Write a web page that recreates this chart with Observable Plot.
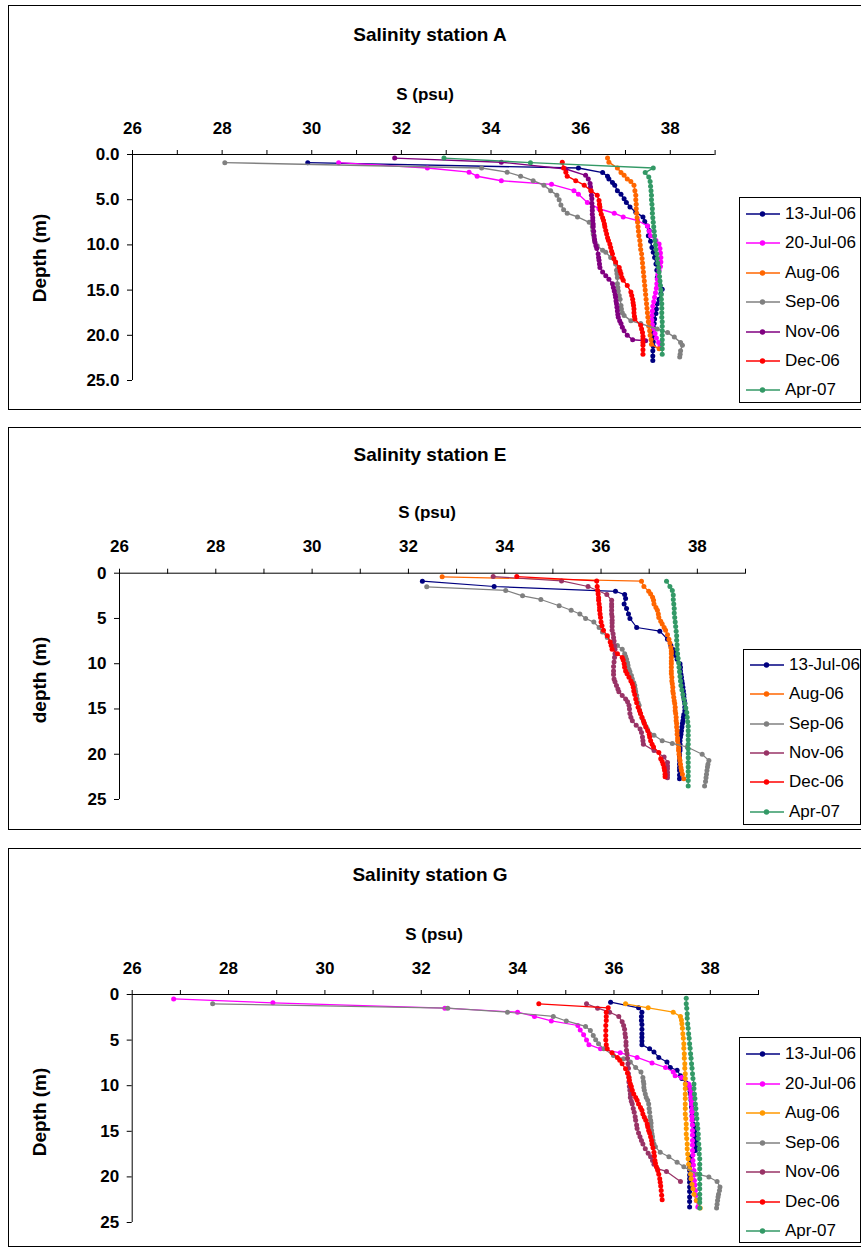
<!DOCTYPE html>
<html><head><meta charset="utf-8">
<script src="https://cdn.jsdelivr.net/npm/d3@7"></script>
<script src="https://cdn.jsdelivr.net/npm/@observablehq/plot@0.6"></script>
<style>
body{margin:0;background:#fff;font-family:"Liberation Sans",Arial,sans-serif;}
#page{position:relative;width:861px;height:1247px;overflow:hidden;background:#fff;}
.frame{position:absolute;border:1px solid #000;box-sizing:border-box;pointer-events:none;}
.title{position:absolute;font-weight:bold;font-size:19px;transform:translate(-50%,-50%);white-space:nowrap;}
.xlab{position:absolute;font-weight:bold;font-size:17px;transform:translate(-50%,-50%);white-space:nowrap;}
.ylab{position:absolute;font-weight:bold;font-size:19px;transform:translate(-50%,-50%) rotate(-90deg);white-space:nowrap;}
.legend{position:absolute;border:1px solid #000;box-sizing:border-box;background:#fff;}
.row{position:absolute;left:6px;display:flex;align-items:center;font-size:17px;white-space:nowrap;transform:translateY(-50%);}
.row svg{margin-right:5px;}
</style>
</head><body><div id="page"></div>
<script>
// ---------- categories / ticks ----------
const xTicks = [26,27,28,29,30,31,32,33,34,35,36,37,38,39];
const xLabels = [26,28,30,32,34,36,38];
const yTicks = [0,5,10,15,20,25];
const seriesNamesA = ["13-Jul-06","20-Jul-06","Aug-06","Sep-06","Nov-06","Dec-06","Apr-07"];
const seriesNamesE = ["13-Jul-06","Aug-06","Sep-06","Nov-06","Dec-06","Apr-07"];
const seriesNamesG = ["13-Jul-06","20-Jul-06","Aug-06","Sep-06","Nov-06","Dec-06","Apr-07"];
const colorsA = ["#000080","#FF00FF","#FF6600","#808080","#800080","#FF0000","#339966"];
const colorsE = ["#000080","#FF6600","#808080","#993366","#FF0000","#339966"];
const colorsG = ["#000080","#FF00FF","#FF9900","#808080","#993366","#FF0000","#339966"];

// ---------- station A  [depth (m), S (psu)] ----------
const A_jul13 = [[0.9,29.91],[1.5,35.95],[2.0,36.49],[2.4,36.6],[2.7,36.63],[3.1,36.71],[3.4,36.76],[4.0,36.82],[4.4,36.9],[4.9,36.97],[5.3,37.02],[5.8,37.1],[6.4,37.23],[6.9,37.39],[7.4,37.43],[7.9,37.49],[8.4,37.53],[9.0,37.51],[9.6,37.56],[10.3,37.59],[10.8,37.62],[11.4,37.65],[12.1,37.68],[12.8,37.7],[13.6,37.71],[14.3,37.75],[14.9,37.82],[15.4,37.79],[16.0,37.75],[16.5,37.71],[17.1,37.69],[17.6,37.68],[18.2,37.65],[18.7,37.64],[19.2,37.63],[19.7,37.62],[20.2,37.62],[20.7,37.62],[21.2,37.62],[21.7,37.61],[22.3,37.61],[22.8,37.61]];
const A_jul20 = [[0.9,30.6],[1.5,32.58],[1.95,33.51],[2.4,33.69],[2.9,34.23],[3.3,35.35],[4.0,35.85],[4.4,35.95],[5.3,36.15],[6.0,36.41],[6.5,36.75],[6.9,36.95],[7.3,37.27],[7.9,37.49],[8.5,37.53],[9.0,37.56],[9.5,37.68],[9.9,37.75],[10.4,37.77],[10.9,37.78],[11.4,37.79],[11.9,37.79],[12.4,37.78],[12.8,37.75],[13.3,37.72],[13.8,37.71],[14.3,37.7],[14.8,37.69],[15.3,37.67],[15.8,37.65],[16.3,37.63],[16.8,37.61],[17.3,37.6],[17.8,37.59],[18.3,37.59],[18.8,37.6],[19.3,37.63],[19.8,37.66],[20.3,37.69],[20.8,37.74],[21.2,37.77]];
const A_aug = [[0.4,36.6],[0.85,36.63],[1.5,36.82],[2.0,36.9],[2.3,36.97],[2.7,37.04],[3.0,37.12],[3.4,37.19],[4.0,37.21],[4.5,37.23],[5.0,37.23],[5.5,37.24],[6.0,37.24],[6.5,37.25],[7.0,37.26],[7.5,37.27],[8.0,37.28],[8.5,37.29],[9.0,37.3],[9.5,37.32],[10.0,37.33],[10.5,37.34],[11.0,37.36],[11.5,37.37],[12.0,37.38],[12.5,37.39],[13.0,37.4],[13.5,37.41],[14.0,37.42],[14.5,37.43],[15.0,37.44],[15.5,37.45],[16.0,37.46],[16.5,37.47],[17.0,37.48],[17.5,37.49],[18.0,37.5],[18.5,37.51],[19.0,37.52],[19.5,37.54],[20.0,37.55],[20.5,37.57],[21.0,37.58],[21.5,37.75]];
const A_sep = [[0.9,28.06],[1.5,33.79],[1.95,34.36],[2.4,34.66],[2.9,34.94],[3.4,35.18],[4.0,35.33],[4.5,35.47],[5.0,35.52],[5.6,35.56],[6.1,35.62],[6.5,35.7],[6.9,35.93],[7.5,36.19],[8.0,36.26],[8.4,36.27],[8.8,36.28],[9.2,36.3],[9.5,36.31],[10.1,36.37],[10.6,36.49],[10.8,36.56],[11.4,36.67],[12.1,36.78],[12.8,36.8],[13.2,36.81],[13.6,36.82],[14.3,36.82],[14.7,36.83],[15.1,36.84],[15.6,36.86],[16.0,36.88],[16.7,36.9],[17.1,36.91],[17.5,36.93],[17.8,36.97],[18.4,37.12],[18.7,37.34],[19.3,37.71],[19.7,37.94],[20.2,38.09],[20.8,38.23],[21.1,38.27],[21.7,38.23],[22.1,38.22],[22.4,38.21]];
const A_nov = [[0.4,31.85],[0.85,34.23],[1.6,35.67],[2.3,36.11],[2.7,36.17],[3.2,36.21],[3.6,36.22],[4.0,36.23],[4.5,36.24],[4.9,36.25],[5.4,36.25],[5.8,36.26],[6.2,36.26],[6.6,36.26],[7.0,36.27],[7.3,36.27],[7.7,36.28],[8.0,36.28],[8.5,36.29],[9.0,36.3],[9.4,36.31],[9.7,36.32],[10.1,36.34],[10.4,36.36],[11.0,36.39],[11.4,36.4],[11.7,36.41],[12.1,36.42],[12.5,36.43],[13.0,36.49],[13.4,36.56],[13.8,36.63],[14.3,36.71],[14.7,36.73],[15.1,36.75],[15.5,36.77],[15.8,36.78],[16.2,36.79],[16.5,36.8],[16.9,36.81],[17.3,36.82],[17.7,36.83],[18.0,36.84],[18.4,36.87],[18.7,36.9],[19.1,36.93],[19.5,36.97],[20.0,37.04],[20.5,37.16],[20.6,37.45]];
const A_dec = [[0.85,35.59],[1.5,35.62],[1.96,35.67],[2.4,35.7],[2.9,35.89],[3.4,36.08],[4.0,36.23],[4.5,36.37],[5.1,36.41],[5.5,36.42],[5.8,36.43],[6.2,36.44],[6.6,36.46],[7.0,36.49],[7.3,36.51],[7.7,36.53],[8.0,36.54],[8.4,36.56],[8.8,36.58],[9.2,36.6],[9.5,36.62],[9.9,36.65],[10.3,36.67],[10.7,36.69],[11.0,36.71],[11.5,36.74],[11.9,36.78],[12.5,36.86],[12.9,36.88],[13.2,36.9],[13.6,36.92],[13.9,36.95],[14.5,37.04],[15.2,37.12],[15.6,37.14],[16.0,37.16],[16.4,37.17],[16.7,37.18],[17.1,37.19],[17.5,37.19],[17.9,37.2],[18.2,37.21],[18.9,37.34],[19.3,37.36],[19.7,37.38],[20.1,37.39],[20.4,37.39],[20.8,37.39],[21.1,37.39],[21.6,37.39],[22.1,37.39]];
const A_apr = [[0.4,32.95],[0.9,34.88],[1.5,37.62],[2.0,37.44],[2.5,37.52],[3.0,37.55],[3.5,37.56],[4.0,37.57],[4.5,37.58],[5.0,37.58],[5.5,37.59],[6.0,37.6],[6.5,37.6],[7.0,37.61],[7.5,37.62],[8.0,37.63],[8.5,37.64],[9.0,37.65],[9.5,37.66],[10.0,37.67],[10.5,37.68],[11.0,37.7],[11.5,37.71],[12.0,37.72],[12.5,37.74],[13.0,37.75],[13.5,37.76],[14.0,37.77],[14.5,37.78],[15.0,37.79],[15.5,37.8],[16.0,37.8],[16.5,37.81],[17.0,37.81],[17.5,37.81],[18.0,37.81],[18.5,37.82],[19.0,37.82],[19.5,37.82],[20.0,37.82],[20.5,37.82],[21.0,37.82],[21.5,37.82],[22.1,37.82]];

// ---------- station E ----------
const E_jul13 = [[0.88,32.29],[1.47,33.78],[2.0,36.3],[2.36,36.49],[2.8,36.51],[3.4,36.48],[3.9,36.53],[4.5,36.57],[5.0,36.6],[6.0,36.74],[6.4,37.22],[7.3,37.38],[8.0,37.45],[8.4,37.49],[8.7,37.52],[9.1,37.55],[9.5,37.58],[10.0,37.64],[10.4,37.65],[10.8,37.65],[11.2,37.66],[11.5,37.67],[11.9,37.68],[12.2,37.69],[12.6,37.7],[13.0,37.71],[13.4,37.72],[13.7,37.72],[14.1,37.73],[14.4,37.74],[14.8,37.74],[15.2,37.74],[15.6,37.72],[15.9,37.71],[16.3,37.7],[16.6,37.69],[17.0,37.68],[17.4,37.67],[17.8,37.66],[18.1,37.65],[18.5,37.64],[18.9,37.64],[19.3,37.64],[19.6,37.64],[20.0,37.63],[20.3,37.63],[20.7,37.63],[21.1,37.63],[21.5,37.63],[21.8,37.63],[22.3,37.63],[22.7,37.63]];
const E_aug = [[0.4,32.7],[0.88,36.84],[1.47,36.89],[2.0,36.99],[2.3,37.03],[2.65,37.07],[3.0,37.09],[3.4,37.1],[3.8,37.14],[4.1,37.17],[4.5,37.19],[4.9,37.2],[5.3,37.24],[5.6,37.27],[6.0,37.31],[6.3,37.34],[6.8,37.38],[7.3,37.41],[7.7,37.43],[8.2,37.45],[8.6,37.46],[8.9,37.46],[9.3,37.46],[9.7,37.46],[10.0,37.46],[10.4,37.46],[10.8,37.46],[11.1,37.46],[11.5,37.47],[11.9,37.47],[12.2,37.48],[12.6,37.49],[13.0,37.49],[13.3,37.5],[13.7,37.51],[14.1,37.52],[14.4,37.53],[14.8,37.54],[15.2,37.54],[15.5,37.55],[15.9,37.56],[16.3,37.56],[16.6,37.57],[17.0,37.57],[17.4,37.58],[17.8,37.58],[18.2,37.59],[18.5,37.59],[18.9,37.6],[19.3,37.61],[19.6,37.61],[20.0,37.62],[20.4,37.63],[20.7,37.64],[21.1,37.65],[21.5,37.66],[21.8,37.67],[22.2,37.69],[22.7,37.72]];
const E_sep = [[1.5,32.38],[1.9,34.02],[2.5,34.37],[2.9,34.75],[3.6,35.13],[4.1,35.38],[4.5,35.56],[5.0,35.68],[5.4,35.85],[6.0,35.96],[6.5,36.03],[7.1,36.13],[7.6,36.23],[8.0,36.34],[8.4,36.44],[8.9,36.49],[9.2,36.51],[9.5,36.53],[9.9,36.55],[10.2,36.56],[10.6,36.58],[10.9,36.6],[11.3,36.63],[11.7,36.65],[12.1,36.68],[12.4,36.7],[12.8,36.71],[13.1,36.72],[13.5,36.74],[13.9,36.75],[14.3,36.77],[14.6,36.79],[15.1,36.8],[15.5,36.82],[16.0,36.85],[16.5,36.89],[16.9,36.93],[17.2,36.96],[17.9,37.1],[18.5,37.27],[18.8,37.48],[19.2,37.79],[20.0,38.1],[20.7,38.24],[21.1,38.22],[21.4,38.21],[21.8,38.2],[22.2,38.19],[22.6,38.18],[23.0,38.17],[23.5,38.15]];
const E_nov = [[0.37,33.76],[0.85,35.18],[1.47,35.73],[2.36,36.12],[3.0,36.22],[3.4,36.22],[3.7,36.22],[4.1,36.22],[4.5,36.22],[4.8,36.23],[5.2,36.23],[5.5,36.23],[5.9,36.23],[6.3,36.23],[6.7,36.25],[7.1,36.26],[7.5,36.27],[8.0,36.28],[8.4,36.29],[8.9,36.29],[9.3,36.28],[9.8,36.27],[10.3,36.26],[10.8,36.26],[11.2,36.26],[11.7,36.27],[12.0,36.29],[12.4,36.32],[12.8,36.35],[13.1,36.37],[13.5,36.44],[13.9,36.51],[14.2,36.55],[14.6,36.58],[15.0,36.59],[15.5,36.6],[15.9,36.62],[16.3,36.65],[16.8,36.73],[17.2,36.81],[17.6,36.84],[18.1,36.86],[18.5,36.87],[18.9,36.88],[19.6,37.1],[20.3,37.31],[20.9,37.38],[21.3,37.38],[21.6,37.38],[22.0,37.38],[22.3,37.38],[22.6,37.38]];
const E_dec = [[0.37,34.25],[0.85,35.91],[1.47,35.92],[1.9,35.93],[2.3,35.94],[2.7,35.95],[3.0,35.95],[3.4,35.96],[3.8,35.97],[4.1,35.97],[4.5,35.98],[4.9,35.99],[5.4,36.0],[5.8,36.02],[6.3,36.05],[6.9,36.13],[7.6,36.19],[8.0,36.21],[8.4,36.23],[8.9,36.34],[9.3,36.44],[9.6,36.46],[10.0,36.48],[10.4,36.49],[10.8,36.51],[11.1,36.54],[11.5,36.58],[11.9,36.62],[12.2,36.65],[12.6,36.67],[13.0,36.68],[13.4,36.7],[13.9,36.72],[14.3,36.74],[14.8,36.77],[15.2,36.8],[15.5,36.82],[15.9,36.85],[16.3,36.88],[16.6,36.9],[17.0,36.93],[17.4,36.97],[17.8,37.0],[18.1,37.01],[18.5,37.03],[18.9,37.06],[19.2,37.09],[19.8,37.2],[20.5,37.24],[20.8,37.27],[21.1,37.29],[21.5,37.31],[21.8,37.32],[22.2,37.33],[22.5,37.33]];
const E_apr = [[0.88,37.36],[1.47,37.43],[1.9,37.48],[2.4,37.5],[2.9,37.5],[3.4,37.51],[3.9,37.52],[4.4,37.52],[4.9,37.53],[5.4,37.54],[5.9,37.55],[6.4,37.56],[6.9,37.57],[7.4,37.57],[7.9,37.58],[8.4,37.58],[8.9,37.59],[9.4,37.6],[9.9,37.61],[10.4,37.62],[10.9,37.63],[11.4,37.64],[11.9,37.65],[12.4,37.66],[12.9,37.68],[13.4,37.7],[13.9,37.72],[14.4,37.74],[14.9,37.76],[15.4,37.78],[15.9,37.79],[16.4,37.8],[16.9,37.81],[17.4,37.81],[17.9,37.81],[18.4,37.81],[18.9,37.81],[19.4,37.81],[19.9,37.81],[20.4,37.81],[20.9,37.81],[21.4,37.81],[21.9,37.81],[22.4,37.81],[22.9,37.81],[23.5,37.81]];

// ---------- station G ----------
const G_jul13 = [[0.84,35.93],[1.46,36.51],[1.94,36.58],[2.4,36.57],[2.85,36.57],[3.3,36.58],[3.8,36.58],[4.3,36.58],[4.7,36.58],[5.1,36.58],[5.5,36.58],[5.96,36.74],[6.3,36.83],[6.9,36.93],[7.4,37.1],[8.0,37.17],[8.3,37.31],[8.9,37.38],[9.2,37.41],[9.7,37.5],[10.2,37.55],[10.6,37.58],[10.9,37.59],[11.3,37.6],[11.6,37.6],[12.0,37.61],[12.35,37.61],[12.8,37.62],[13.3,37.62],[13.7,37.63],[14.2,37.64],[14.5,37.66],[14.9,37.67],[15.2,37.68],[15.6,37.69],[16.0,37.7],[16.4,37.7],[16.8,37.7],[17.1,37.69],[17.8,37.6],[18.2,37.58],[18.6,37.57],[19.0,37.57],[19.3,37.57],[19.8,37.57],[20.2,37.57],[20.6,37.57],[21.1,37.57],[21.6,37.57],[22.2,37.57],[22.7,37.57],[23.3,37.57]];
const G_jul20 = [[0.48,26.86],[0.91,28.92],[1.5,32.49],[1.94,34.0],[2.4,34.35],[2.9,34.7],[3.4,35.25],[3.9,35.3],[4.4,35.37],[5.0,35.43],[5.5,35.48],[5.96,35.72],[6.4,36.13],[6.9,36.48],[7.5,36.79],[8.0,37.07],[8.5,37.23],[8.9,37.27],[9.1,37.4],[9.8,37.55],[10.1,37.57],[10.5,37.59],[10.9,37.6],[11.3,37.6],[11.6,37.61],[12.0,37.61],[12.5,37.62],[12.9,37.62],[13.4,37.62],[13.8,37.62],[14.3,37.63],[14.9,37.63],[15.4,37.63],[16.0,37.63],[16.5,37.63],[17.1,37.63],[17.6,37.64],[18.2,37.64],[18.7,37.65],[19.3,37.66],[19.8,37.66],[20.4,37.67],[20.9,37.68],[21.5,37.69],[22.0,37.7],[22.6,37.71],[23.3,37.74]];
const G_aug = [[1.02,36.24],[1.46,36.71],[1.94,37.23],[2.4,37.38],[2.8,37.4],[3.2,37.41],[3.7,37.42],[4.3,37.43],[4.8,37.44],[5.4,37.45],[5.9,37.45],[6.5,37.46],[7.0,37.46],[7.6,37.47],[8.1,37.47],[8.7,37.48],[9.2,37.48],[9.8,37.48],[10.3,37.48],[10.9,37.48],[11.4,37.48],[12.0,37.48],[12.5,37.48],[13.1,37.48],[13.6,37.49],[14.2,37.5],[14.7,37.5],[15.3,37.5],[15.8,37.51],[16.4,37.52],[16.9,37.52],[17.5,37.53],[18.0,37.54],[18.6,37.55],[19.1,37.57],[19.7,37.59],[20.2,37.6],[20.8,37.62],[21.3,37.64],[21.9,37.66],[22.6,37.71],[23.4,37.79]];
const G_sep = [[1.02,27.67],[1.5,32.55],[1.94,33.79],[2.4,34.74],[2.9,35.01],[3.5,35.41],[3.95,35.51],[4.5,35.57],[4.97,35.62],[5.4,35.68],[5.96,35.79],[6.7,35.99],[7.05,36.2],[7.4,36.34],[8.0,36.45],[8.5,36.56],[9.1,36.6],[9.5,36.61],[9.8,36.62],[10.2,36.62],[10.5,36.63],[10.9,36.65],[11.3,36.67],[11.6,36.7],[12.0,36.72],[12.5,36.73],[12.9,36.74],[13.4,36.75],[13.8,36.76],[14.1,36.77],[14.5,36.77],[14.9,36.78],[15.3,36.79],[15.6,36.8],[16.0,36.81],[16.4,36.83],[16.7,36.86],[17.3,36.96],[17.8,37.14],[18.4,37.31],[18.9,37.45],[19.7,37.73],[20.0,37.97],[20.5,38.14],[21.1,38.2],[21.5,38.19],[21.9,38.17],[22.2,38.16],[22.6,38.15],[23.0,38.14],[23.4,38.13]];
const G_nov = [[1.02,35.43],[1.5,35.66],[1.94,35.91],[2.4,36.1],[3.0,36.17],[3.4,36.2],[3.8,36.22],[4.3,36.23],[4.7,36.24],[5.2,36.25],[5.6,36.25],[6.1,36.26],[6.5,36.27],[7.0,36.28],[7.6,36.29],[8.1,36.3],[8.7,36.3],[9.1,36.31],[9.6,36.31],[10.1,36.32],[10.5,36.33],[10.9,36.34],[11.3,36.34],[11.7,36.36],[12.0,36.38],[12.5,36.4],[12.9,36.42],[13.4,36.44],[13.8,36.45],[14.3,36.47],[14.7,36.48],[15.2,36.51],[15.6,36.54],[16.0,36.57],[16.4,36.6],[16.9,36.65],[17.4,36.71],[17.8,36.76],[18.2,36.8],[18.6,36.83],[19.1,36.9],[19.4,37.09],[20.5,37.38]];
const G_dec = [[1.02,34.44],[1.46,35.88],[1.94,35.84],[2.4,35.84],[2.85,35.84],[3.4,35.83],[3.95,35.83],[4.5,35.83],[5.0,35.83],[5.5,35.84],[5.96,35.86],[6.4,35.96],[6.9,36.07],[7.2,36.12],[7.6,36.17],[8.15,36.24],[8.6,36.28],[9.06,36.31],[9.4,36.32],[9.8,36.34],[10.1,36.36],[10.5,36.38],[10.9,36.41],[11.3,36.45],[11.6,36.48],[12.0,36.51],[12.4,36.55],[12.7,36.58],[13.1,36.6],[13.45,36.63],[13.8,36.66],[14.2,36.69],[14.5,36.7],[14.9,36.72],[15.2,36.74],[15.6,36.76],[16.0,36.78],[16.4,36.79],[16.8,36.81],[17.3,36.83],[17.7,36.84],[18.2,36.85],[18.5,36.86],[18.9,36.88],[19.3,36.91],[19.7,36.93],[20.2,36.95],[20.6,36.96],[21.0,36.97],[21.5,36.98],[22.0,36.99],[22.5,37.0]];
const G_apr = [[0.4,37.5],[1.02,37.5],[1.5,37.51],[2.1,37.52],[2.6,37.52],[3.2,37.53],[3.7,37.54],[4.3,37.55],[4.8,37.56],[5.4,37.57],[5.9,37.58],[6.5,37.59],[7.0,37.6],[7.6,37.61],[8.1,37.62],[8.7,37.63],[9.2,37.64],[9.8,37.66],[10.3,37.66],[10.9,37.67],[11.4,37.68],[12.0,37.69],[12.5,37.7],[13.1,37.71],[13.6,37.72],[14.2,37.73],[14.7,37.74],[15.3,37.75],[15.8,37.75],[16.4,37.76],[16.9,37.77],[17.5,37.77],[18.0,37.78],[18.6,37.78],[19.1,37.78],[19.7,37.78],[20.2,37.78],[20.8,37.78],[21.3,37.78],[21.9,37.78],[22.4,37.78],[22.8,37.78],[23.4,37.78]];

const dataA = [A_jul13, A_jul20, A_aug, A_sep, A_nov, A_dec, A_apr];
const dataE = [E_jul13, E_aug, E_sep, E_nov, E_dec, E_apr];
const dataG = [G_jul13, G_jul20, G_aug, G_sep, G_nov, G_dec, G_apr];

const page = document.getElementById("page");
const W = 861;

function el(cls, txt, x, y) {
  const d = document.createElement("div");
  d.className = cls; d.textContent = txt;
  d.style.left = x + "px"; d.style.top = y + "px";
  page.appendChild(d); return d;
}

function panel(cfg) {
  const {top, bottom, x0, x1, y0, y1, names, colors, data, yFmt, title, titleY, xlabX, xlabY, ylab, ylabY, leg, lw} = cfg;
  const H = bottom - top;
  const marks = [
    Plot.ruleY([0], {stroke: "#000", strokeWidth: 1}),
    Plot.ruleX([26], {stroke: "#000", strokeWidth: 1}),
    Plot.axisX({anchor: "top", ticks: xTicks, tickSize: 5, tickPadding: 16,
      tickFormat: d => xLabels.includes(d) ? String(d) : "", label: null, fontWeight: "bold", fontSize: 17}),
    Plot.axisY({anchor: "left", ticks: yTicks, tickSize: 5, tickPadding: 8,
      tickFormat: yFmt, label: null, fontWeight: "bold", fontSize: 17})
  ];
  data.forEach((s, i) => {
    marks.push(Plot.line(s, {x: d => d[1], y: d => d[0], stroke: colors[i], strokeWidth: lw}));
    marks.push(Plot.dot(s, {x: d => d[1], y: d => d[0], r: 2.5, fill: colors[i], stroke: "none"}));
  });
  const svg = Plot.plot({
    width: W, height: H,
    marginLeft: x0, marginRight: W - x1, marginTop: y0 - top, marginBottom: bottom - y1,
    x: {domain: [26, 39]},
    y: {domain: [0, 25], reverse: true},
    style: {fontFamily: "'Liberation Sans', Arial, sans-serif", fontSize: "17px", fontWeight: "bold", color: "#000", background: "transparent", overflow: "visible"},
    marks
  });
  svg.style.position = "absolute"; svg.style.left = "0px"; svg.style.top = top + "px";
  svg.style.maxWidth = "none";
  page.appendChild(svg);
  const fr = document.createElement("div"); fr.className = "frame";
  Object.assign(fr.style, {left: "8px", top: top + "px", width: "870px", height: H + "px"});
  page.appendChild(fr);
  el("title", title, 430, titleY);
  el("xlab", "S (psu)", xlabX, xlabY);
  el("ylab", ylab, 40, ylabY);
  const lg = document.createElement("div"); lg.className = "legend";
  Object.assign(lg.style, {left: leg.x + "px", top: leg.y + "px", width: leg.w + "px", height: leg.h + "px"});
  names.forEach((n, i) => {
    const r = document.createElement("div"); r.className = "row";
    r.style.top = (leg.first + i * leg.step) + "px";
    r.innerHTML = `<svg width="34" height="10"><line x1="0" y1="5" x2="34" y2="5" stroke="${colors[i]}" stroke-width="1.3"/><circle cx="16.5" cy="5" r="2.7" fill="${colors[i]}"/></svg><span>${n}</span>`;
    lg.appendChild(r);
  });
  page.appendChild(lg);
}

panel({top: 5, bottom: 410, x0: 132, x1: 714.6, y0: 154, y1: 380,
  names: seriesNamesA, colors: colorsA, data: dataA, yFmt: d => d.toFixed(1),
  title: "Salinity station A", titleY: 35, xlabX: 425, xlabY: 95, ylab: "Depth (m)", ylabY: 258,
  leg: {x: 739, y: 197, w: 122, h: 206, first: 16, step: 29.4}, lw: 1.4});
panel({top: 427, bottom: 830, x0: 119, x1: 745, y0: 572.7, y1: 799,
  names: seriesNamesE, colors: colorsE, data: dataE, yFmt: d => String(d),
  title: "Salinity station E", titleY: 455, xlabX: 427, xlabY: 513, ylab: "depth (m)", ylabY: 680,
  leg: {x: 743, y: 649, w: 118, h: 176, first: 15, step: 29.3}, lw: 1.2});
panel({top: 848, bottom: 1247, x0: 131.7, x1: 758, y0: 994, y1: 1222,
  names: seriesNamesG, colors: colorsG, data: dataG, yFmt: d => String(d),
  title: "Salinity station G", titleY: 875, xlabX: 434, xlabY: 935, ylab: "Depth (m)", ylabY: 1112,
  leg: {x: 739, y: 1037, w: 122, h: 206, first: 16, step: 29.5}, lw: 1.2});
</script></body></html>
